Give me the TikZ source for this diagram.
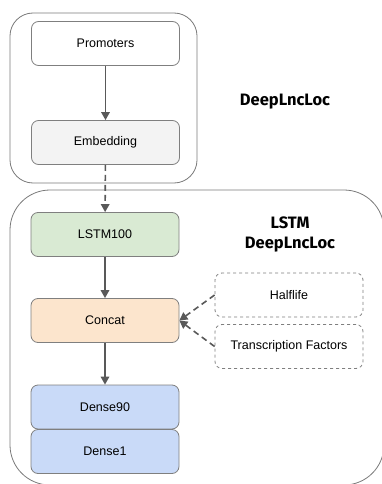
\documentclass[tikz,border=0pt]{standalone}
\usepackage{fontspec}
\setmainfont{Liberation Sans}
\newfontfamily\labfont{Fira Sans}
\usetikzlibrary{arrows.meta}
\definecolor{edgegray}{HTML}{595959}
\definecolor{boxline}{HTML}{7F7F7F}
\definecolor{embfill}{HTML}{F3F3F3}
\definecolor{lstmfill}{HTML}{D9EAD3}
\definecolor{catfill}{HTML}{FCE5CD}
\definecolor{densefill}{HTML}{C9DAF8}
\tikzset{
  x=1pt, y=-1pt,
  layer/.style={draw=boxline, line width=0.8pt, rounded corners=7pt, minimum width=148pt, minimum height=44pt, font=\fontsize{12.5}{15}\selectfont, inner sep=0pt},
  extra/.style={layer, dashed, fill=white},
  group/.style={draw=edgegray!80, line width=0.8pt},
  flow/.style={draw=edgegray, line width=1.6pt, -{Triangle[length=8pt,width=8.5pt]}},
  dflow/.style={flow, dash pattern=on 6pt off 4pt},
  title/.style={font=\labfont\bfseries\fontsize{16.5}{20}\selectfont, align=center}
}
\begin{document}
\begin{tikzpicture}
\useasboundingbox (0,0) rectangle (382,484);
\begin{scope}
\clip (0,0) rectangle (382,484);
\draw[group, rounded corners=23pt] (10,13) rectangle (197,183);
\draw[group, rounded corners=40pt] (10,190) rectangle (384,485);
\end{scope}
\node[layer, fill=white] (prom) at (105.5,43.5) {Promoters};
\node[layer, fill=embfill] (emb) at (105.5,142.5) {Embedding};
\node[title] (t1) at (285,102) {DeepLncLoc};
\node[layer, fill=lstmfill] (lstm) at (105,234.5) {LSTM100};
\node[title] (t2) at (290,234) {LSTM\\DeepLncLoc};
\node[layer, fill=catfill] (cat) at (105,320.5) {Concat};
\node[layer, fill=densefill] (d90) at (105,407) {Dense90};
\node[layer, fill=densefill] (d1) at (105,451.5) {Dense1};
\node[extra] (half) at (289,295) {Halflife};
\node[extra] (tf) at (289,346.5) {Transcription Factors};
\draw[flow] (prom) -- (emb);
\draw[dflow] (emb) -- (lstm);
\draw[flow] (lstm) -- (cat);
\draw[flow] (cat) -- (d90);
\draw[dflow] (half.west) -- (cat.east);
\draw[dflow] (tf.west) -- (cat.east);
\end{tikzpicture}
\end{document}
